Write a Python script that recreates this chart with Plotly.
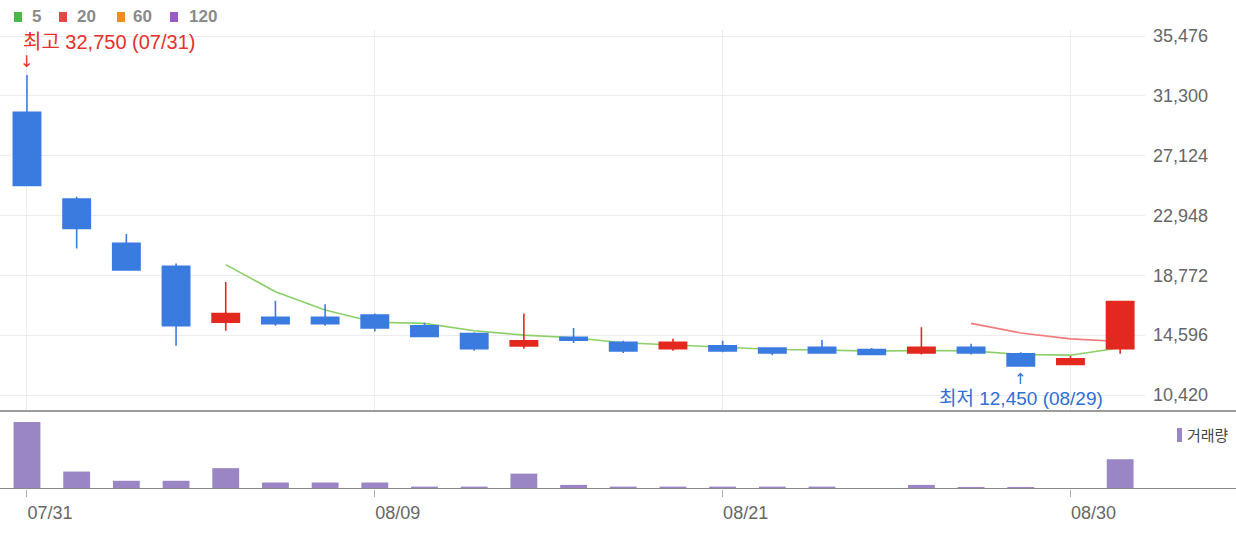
import plotly.graph_objects as go

# ---------------- data ----------------
dates = ["07/31", "08/01", "08/02", "08/05", "08/06", "08/07", "08/08", "08/09",
         "08/12", "08/13", "08/14", "08/16", "08/19", "08/20", "08/21", "08/22",
         "08/23", "08/26", "08/27", "08/28", "08/29", "08/30", "09/02"]
opens = [30150, 24100, 21000, 19400, 15500, 15850, 15850, 16000,
         15250, 14700, 13850, 14450, 14100, 13650, 13850, 13700,
         13750, 13600, 13350, 13750, 13300, 12550, 13650]
highs = [32750, 24250, 21650, 19600, 18300, 17000, 16750, 16100,
         15450, 14800, 16100, 15100, 14200, 14350, 14200, 13750,
         14250, 13700, 15150, 14000, 13400, 13150, 16950]
lows = [25050, 20650, 19150, 13850, 14900, 15250, 15250, 14850,
        14500, 13500, 13650, 14050, 13350, 13500, 13400, 13200,
        13350, 13250, 13250, 13250, 12450, 12500, 13300]
closes = [25050, 22050, 19150, 15250, 16100, 15400, 15400, 15100,
          14500, 13650, 14200, 14250, 13500, 14100, 13500, 13350,
          13350, 13250, 13750, 13350, 12450, 12950, 16950]
ma5 = [None, None, None, None, 19520, 17630, 16350, 15500,
       15420, 14900, 14600, 14420, 14070, 13930, 13740, 13600,
       13560, 13480, 13530, 13500, 13250, 13200, 13720]
ma20 = [None] * 19 + [15420, 14750, 14340, 14150]
volume = [1960000, 510000, 240000, 240000, 610000, 190000, 190000, 190000,
          70000, 70000, 450000, 120000, 70000, 70000, 70000, 70000,
          70000, 10000, 120000, 60000, 60000, 10000, 870000]
price_ticks = [10420, 14596, 18772, 22948, 27124, 31300, 35476]
date_ticks = ["07/31", "08/09", "08/21", "08/30"]
legend_items = ["5", "20", "60", "120"]
legend_colors = ["#4cb748", "#e84545", "#f28c1e", "#9b59c8"]

W, H = 1236, 534
RED = "#e3291f"
BLUE = "#3a7be0"
PURPLE = "#9a85c5"
FONT = "Liberation Sans, Noto Sans CJK KR, sans-serif"

def py(px):  # paper y from pixel row
    return 1 - px / H

def pxx(px):
    return px / W

fig = go.Figure()

# moving averages (below candles)
fig.add_trace(go.Scatter(x=dates, y=ma5, mode="lines", xaxis="x2", yaxis="y2",
                         line=dict(color="#8ccf68", width=1.6), showlegend=False))
fig.add_trace(go.Scatter(x=dates, y=ma20, mode="lines", xaxis="x2", yaxis="y2",
                         line=dict(color="#f27a7a", width=1.6), showlegend=False))
# candles on overlay axis so they sit above the lines
fig.add_trace(go.Candlestick(
    x=dates, open=opens, high=highs, low=lows, close=closes,
    xaxis="x2", yaxis="y3", whiskerwidth=0, showlegend=False,
    increasing=dict(line=dict(color=RED, width=1.6), fillcolor=RED),
    decreasing=dict(line=dict(color=BLUE, width=1.6), fillcolor=BLUE)))
# volume
fig.add_trace(go.Bar(x=dates, y=volume, xaxis="x", yaxis="y", width=0.54,
                     marker=dict(color=PURPLE, line=dict(width=0)), showlegend=False))

x_range = [-0.543, 22.5]
price_range = [9303, 35895]
xdom = [0, 1145 / W]

fig.update_layout(
    width=W, height=H,
    margin=dict(l=0, r=0, t=0, b=0),
    paper_bgcolor="white", plot_bgcolor="white",
    hovermode=False, boxgap=0.45, boxgroupgap=0,
    font=dict(family=FONT, color="#666"),
    xaxis=dict(domain=xdom, anchor="y", type="category", categoryorder="array",
               categoryarray=dates, range=x_range, tickmode="array", tickvals=date_ticks,
               ticks="outside", ticklen=7, tickcolor="#aaa", tickwidth=1,
               showgrid=False, showline=False, zeroline=False, automargin=False,
               ticklabelshift=23, tickfont=dict(size=18, color="#666")),
    xaxis2=dict(domain=xdom, anchor="y2", matches="x", type="category",
                tickmode="array", tickvals=date_ticks, showticklabels=False,
                ticks="", showgrid=True, gridcolor="#ececec", gridwidth=1,
                showline=False, zeroline=False, automargin=False,
                rangeslider=dict(visible=False)),
    yaxis=dict(domain=[py(489), py(412)], anchor="x", range=[0, 2252000],
               showgrid=False, showticklabels=False, zeroline=False,
               showline=False, automargin=False),
    yaxis2=dict(domain=[py(411), py(30)], anchor="x2", side="right",
                range=price_range, tickmode="array", tickvals=price_ticks,
                ticktext=[f"{v:,}" for v in price_ticks],
                showgrid=True, gridcolor="#ececec", gridwidth=1, zeroline=False,
                showline=False, ticks="", automargin=False, ticklabelstandoff=7,
                tickfont=dict(size=18, color="#666")),
    yaxis3=dict(overlaying="y2", anchor="x2", side="right", range=price_range,
                visible=False, showgrid=False, zeroline=False),
)

shapes = [
    # separator between price and volume panels
    dict(type="line", xref="paper", yref="paper", x0=0, x1=1, y0=py(411), y1=py(411),
         line=dict(color="#9c9c9c", width=2), layer="above"),
    # volume baseline
    dict(type="line", xref="paper", yref="y", x0=0, x1=1, y0=0, y1=0,
         line=dict(color="#8a8a8a", width=2), layer="above"),
    # volume legend swatch
    dict(type="rect", xref="paper", yref="paper", x0=pxx(1177), x1=pxx(1182),
         y0=py(442), y1=py(428), fillcolor=PURPLE, line=dict(width=0)),
]
legend_sq_x = [14, 59, 117, 170]
legend_tx_x = [30, 75, 131, 187]
annotations = []
for lab, col, sx, tx in zip(legend_items, legend_colors, legend_sq_x, legend_tx_x):
    shapes.append(dict(type="rect", xref="paper", yref="paper", x0=pxx(sx), x1=pxx(sx + 8),
                       y0=py(22), y1=py(12), fillcolor=col, line=dict(width=0)))
    annotations.append(dict(xref="paper", yref="paper", x=pxx(tx), y=py(17),
                            xanchor="left", yanchor="middle", showarrow=False,
                            text=f"<b>{lab}</b>", font=dict(size=17, color="#8a8a8a")))

# max / min annotations
imax = highs.index(max(highs))
imin = lows.index(min(lows))
annotations += [
    dict(x=dates[imax], y=highs[imax], xref="x2", yref="y2", showarrow=False,
         text="↓", xanchor="center", yanchor="bottom", yshift=2,
         font=dict(size=16, color="#e8312a", family="DejaVu Sans")),
    dict(x=dates[imax], y=highs[imax], xref="x2", yref="y2", showarrow=False,
         text=f"최고 {highs[imax]:,} ({dates[imax]})", xanchor="left", yanchor="bottom",
         xshift=-6, yshift=20, font=dict(size=20, color="#e8312a")),
    dict(x=dates[imin], y=lows[imin], xref="x2", yref="y2", showarrow=False,
         text="↑", xanchor="center", yanchor="top", yshift=-2,
         font=dict(size=15, color="#2f6fd6", family="DejaVu Sans")),
    dict(x=dates[imin], y=lows[imin], xref="x2", yref="y2", showarrow=False,
         text=f"최저 {lows[imin]:,} ({dates[imin]})", xanchor="center", yanchor="top",
         yshift=-20, font=dict(size=19, color="#2f6fd6")),
    dict(xref="paper", yref="paper", x=pxx(1185), y=py(435), xanchor="left",
         yanchor="middle", showarrow=False, text="거래량",
         font=dict(size=15, color="#444")),
]
fig.update_layout(shapes=shapes, annotations=annotations)

fig.write_html("out.html", config={"displayModeBar": False},
               post_script="document.body.style.margin='0';")
